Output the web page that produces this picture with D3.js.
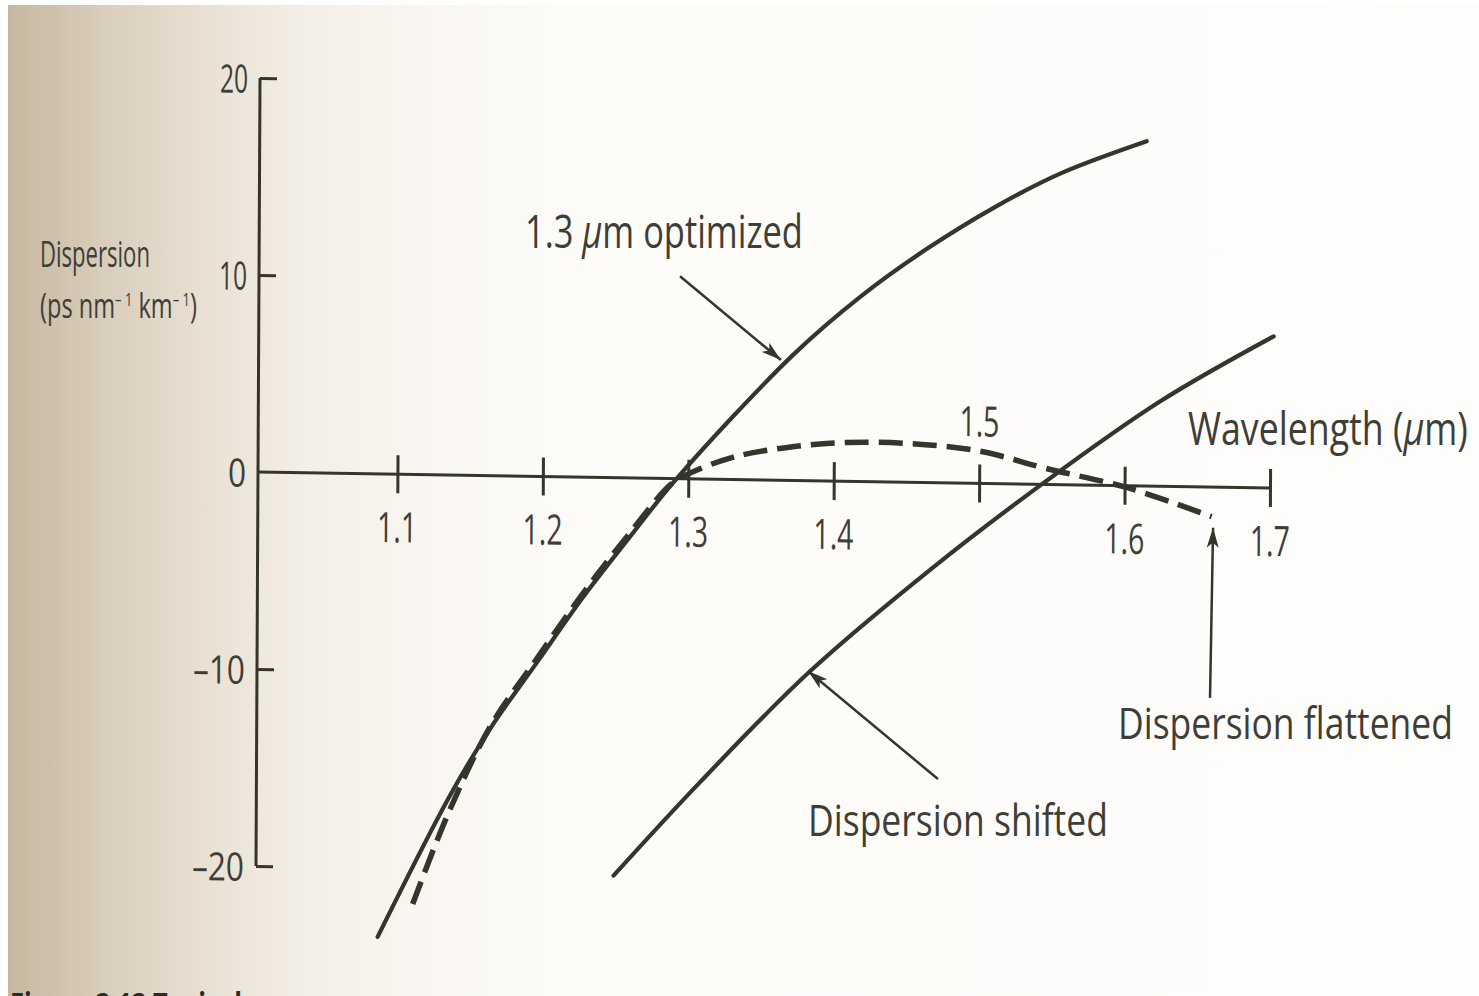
<!DOCTYPE html>
<html>
<head>
<meta charset="utf-8">
<script src="https://cdn.jsdelivr.net/npm/d3@7"></script>
<style>
  html, body { margin: 0; padding: 0; background: #fff; }
  svg { display: block; }
  text { font-family: "Open Sans", "Noto Sans", sans-serif; fill: #3f3e36; }
</style>
</head>
<body>
<svg id="chart" width="1479" height="996"></svg>
<script>
// Axis ticks
const xTicks = [1.1, 1.2, 1.3, 1.4, 1.5, 1.6, 1.7];
const yTicks = [-20, -10, 0, 10, 20];

// Wavelength (um) and dispersion (ps nm^-1 km^-1) for each fibre type
const optimizedWl = [1.088, 1.137, 1.165, 1.197, 1.228, 1.260, 1.292, 1.372, 1.418, 1.463, 1.509, 1.555, 1.614];
const optimizedD  = [-23.5, -16.3, -12.8, -9.4, -6.1, -3.0, 0.0, 6.4, 9.4, 11.85, 14.0, 15.8, 17.5];

const shiftedWl = [1.250, 1.309, 1.384, 1.467, 1.543, 1.624, 1.702];
const shiftedD  = [-20.2, -15.4, -9.7, -4.4, 0.0, 4.3, 7.7];

const flattenedWl = [1.112, 1.136, 1.165, 1.197, 1.228, 1.260, 1.288, 1.300, 1.331, 1.368, 1.408, 1.454, 1.500, 1.546, 1.602, 1.660];
const flattenedD  = [-21.8, -17.2, -12.7, -9.2, -5.9, -2.8, -0.3, 0.25, 1.14, 1.67, 1.97, 1.96, 1.64, 0.81, -0.10, -1.50];

// Annotation arrows: tail and tip in data units
const arrowFrom = [[1.2936, 10.27], [1.4727, -15.04], [1.6595, -10.7]];
const arrowTo   = [[1.3633, 6.1],  [1.3830, -9.66],  [1.6610, -2.06]];

const ink = "#36352b";
const svg = d3.select("#chart");

// Paper: white sheet with a warm shadow along the binding edge
const defs = svg.append("defs");
const grad = defs.append("linearGradient").attr("id", "paper").attr("x1", 0).attr("x2", 1).attr("y1", 0).attr("y2", 0);
[[0, "#c8b8a1"], [0.03, "#cfc2ad"], [0.08, "#ddd2c1"], [0.14, "#eae2d5"], [0.2, "#f3eee6"], [0.28, "#f9f6f1"], [0.4, "#fdfcf9"], [1, "#fdfdfb"]]
  .forEach(([o, c]) => grad.append("stop").attr("offset", o).attr("stop-color", c));

svg.append("rect").attr("width", 1479).attr("height", 996).attr("fill", "#ffffff");
svg.append("rect").attr("x", 8).attr("y", 5).attr("width", 1471).attr("height", 991).attr("fill", "url(#paper)");

// Arrowhead
defs.append("marker")
  .attr("id", "head")
  .attr("markerUnits", "userSpaceOnUse")
  .attr("markerWidth", 22).attr("markerHeight", 14)
  .attr("refX", 20).attr("refY", 7)
  .attr("orient", "auto")
  .append("path")
  .attr("d", "M0,1 L20,7 L0,13 L5,7 Z")
  .attr("fill", ink);

// Plot group, slightly sheared like the printed page
const g = svg.append("g").attr("transform", "matrix(1 0.0158 -0.0051 1 258 472)");

const x = d3.scaleLinear().domain([1.0, 1.7]).range([-6, 1012]);
const y = d3.scaleLinear().domain([-20, 20]).range([394, -394]);

// Horizontal axis line with crossing ticks
g.append("line").attr("x1", 0).attr("x2", x(1.7)).attr("y1", 0).attr("y2", 0)
  .attr("stroke", ink).attr("stroke-width", 3);
const xAxis = g.append("g").call(d3.axisBottom(x).tickValues(xTicks).tickSize(19).tickFormat(""));
xAxis.select(".domain").remove();
xAxis.selectAll(".tick line").attr("y1", -19).attr("y2", 19).attr("stroke", ink).attr("stroke-width", 3);

// Tick labels; 1.5 sits above the axis
g.selectAll("text.xlab").data(xTicks).join("text")
  .attr("class", "xlab")
  .attr("x", d => x(d))
  .attr("y", d => d === 1.5 ? -47 : 68)
  .attr("text-anchor", "middle")
  .attr("font-size", 42)
  .attr("textLength", 40)
  .attr("lengthAdjust", "spacingAndGlyphs")
  .text(d => d3.format(".1f")(d));

// Vertical axis with inward ticks
const yAxis = g.append("g").call(d3.axisRight(y).tickValues([-20, -10, 10, 20]).tickSize(17).tickSizeOuter(0).tickFormat(""));
yAxis.select(".domain").attr("stroke", ink).attr("stroke-width", 3).attr("d", `M0,${y(-20)}V${y(20)}`);
yAxis.selectAll(".tick line").attr("stroke", ink).attr("stroke-width", 3);

g.selectAll("text.ylab").data(yTicks).join("text")
  .attr("class", "ylab")
  .attr("x", -12)
  .attr("y", d => y(d) + 15)
  .attr("text-anchor", "end")
  .attr("font-size", 39)
  .attr("textLength", d => d < 0 ? 52 : (d === 0 ? 18 : 28))
  .attr("lengthAdjust", "spacingAndGlyphs")
  .text(d => d < 0 ? "\u2013" + Math.abs(d) : String(d));

// Curves
const curve = d3.line().x(d => x(d[0])).y(d => y(d[1])).curve(d3.curveCatmullRom.alpha(0.5));
const zip = (a, b) => a.map((v, i) => [v, b[i]]);

g.append("path").datum(zip(optimizedWl, optimizedD))
  .attr("d", curve).attr("fill", "none").attr("stroke", ink).attr("stroke-width", 4.2).attr("stroke-linecap", "round");
g.append("path").datum(zip(shiftedWl, shiftedD))
  .attr("d", curve).attr("fill", "none").attr("stroke", ink).attr("stroke-width", 4.2).attr("stroke-linecap", "round");
g.append("path").datum(zip(flattenedWl, flattenedD))
  .attr("d", curve).attr("fill", "none").attr("stroke", ink).attr("stroke-width", 5.5)
  .attr("stroke-dasharray", "24 10");

// Annotation arrows
g.selectAll("line.arrow").data(arrowFrom).join("line")
  .attr("class", "arrow")
  .attr("x1", d => x(d[0])).attr("y1", d => y(d[1]))
  .attr("x2", (d, i) => x(arrowTo[i][0])).attr("y2", (d, i) => y(arrowTo[i][1]))
  .attr("stroke", ink).attr("stroke-width", 2.5)
  .attr("marker-end", "url(#head)");

// Labels: each is set in Open Sans and squeezed horizontally to the printed width
function label(parts, x0, base, size, width) {
  const wrap = svg.append("g");
  const t = wrap.append("text").attr("x", 0).attr("y", 0).attr("font-size", size);
  parts.forEach(p => {
    const sp = t.append("tspan").text(p.s);
    if (p.italic) sp.attr("font-style", "italic");
    if (p.sup) sp.attr("font-size", size * 0.55).attr("dy", -size * 0.36);
    if (p.down) sp.attr("dy", size * 0.36);
  });
  const w = t.node().getComputedTextLength();
  wrap.attr("transform", `translate(${x0},${base}) scale(${width / w},1)`);
  return t;
}
label([{s: "1.3 "}, {s: "\u03bc", italic: true}, {s: "m optimized"}], 525, 248, 45, 278);
label([{s: "Wavelength ("}, {s: "\u03bc", italic: true}, {s: "m)"}], 1188, 445, 45, 280);
label([{s: "Dispersion shifted"}], 808, 836, 43, 300);
label([{s: "Dispersion flattened"}], 1118, 739, 43, 335);

// Vertical axis title
label([{s: "Dispersion"}], 40, 267, 37, 110);
label([
  {s: "(ps nm"}, {s: "\u2013 1", sup: true}, {s: " km", down: true},
  {s: "\u2013 1", sup: true}, {s: ")", down: true}
], 40, 318, 34, 157);

// Caption running off the bottom edge
svg.append("text").attr("x", 10).attr("y", 1017).attr("font-size", 34).attr("font-weight", 700)
  .style("fill", "#2b2a24")
  .attr("textLength", 232).attr("lengthAdjust", "spacingAndGlyphs")
  .text("Figure 3.13  Typical");
</script>
</body>
</html>
